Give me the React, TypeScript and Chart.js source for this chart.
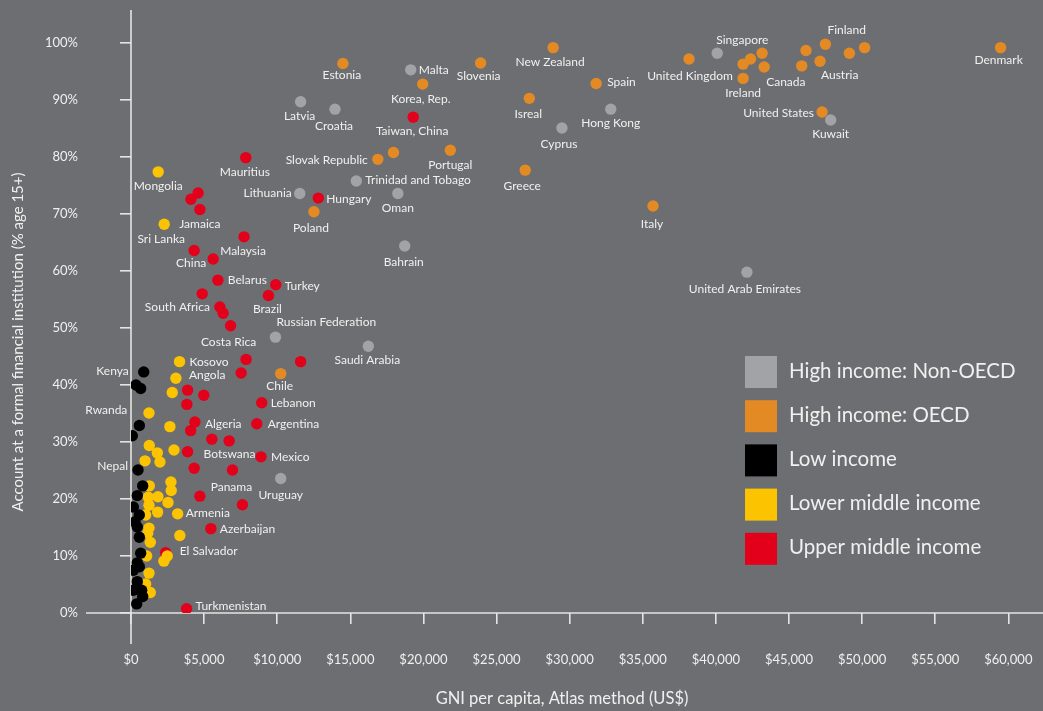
import React, { useEffect, useRef } from "react";
import { Chart, registerables } from "chart.js";

Chart.register(...registerables);

const FONT = "Lato, 'Open Sans', 'DejaVu Sans', sans-serif";
const BG = "#6d6e71";
const TXT = "#f0f0f0";
const AXIS = "#e4e4e4";

const seriesNames = [
  "High income: Non-OECD",
  "High income: OECD",
  "Low income",
  "Lower middle income",
  "Upper middle income",
];
const seriesColors = ["#a2a3a6", "#e38a25", "#000000", "#fcc400", "#e2001a"];

const xTicks = [0, 5000, 10000, 15000, 20000, 25000, 30000, 35000, 40000, 45000, 50000, 55000, 60000];
const yTicks = [0, 10, 20, 30, 40, 50, 60, 70, 80, 90, 100];
const xTitle = "GNI per capita, Atlas method (US$)";
const yTitle = "Account at a formal financial institution (% age 15+)";

// High income: Non-OECD
const hnoNames = ["Singapore", "Malta", "Latvia", "Croatia", "Hong Kong", "Cyprus", "Kuwait", "Trinidad and Tobago", "Lithuania", "Oman", "Bahrain", "United Arab Emirates", "Russian Federation", "Saudi Arabia", "Uruguay"];
const hnoGni = [40090, 19130, 11600, 13950, 32810, 29470, 47850, 15410, 11540, 18250, 18720, 42120, 9880, 16230, 10240];
const hnoAcct = [98.2, 95.3, 89.7, 88.4, 88.4, 85.1, 86.5, 75.8, 73.6, 73.6, 64.4, 59.8, 48.4, 46.8, 23.6];

// High income: OECD
const hoNames = ["Estonia", "Slovenia", "Korea, Rep.", "Slovak Republic", "", "Portugal", "Poland", "Greece", "Isreal", "New Zealand", "Spain", "Italy", "United Kingdom", "Chile", "", "", "", "Canada", "Ireland", "", "", "Finland", "Austria", "", "", "Denmark", "United States"];
const hoGni = [14490, 23910, 19950, 16880, 17950, 21840, 12510, 26960, 27240, 28870, 31810, 35700, 38160, 10240, 41860, 42370, 43160, 43300, 41860, 46160, 45870, 47490, 47120, 49130, 50170, 59470, 47260];
const hoAcct = [96.4, 96.5, 92.8, 79.6, 80.8, 81.2, 70.4, 77.7, 90.3, 99.2, 92.9, 71.4, 97.2, 42.0, 96.3, 97.2, 98.2, 95.8, 93.8, 98.7, 96.0, 99.8, 96.8, 98.2, 99.2, 99.2, 87.9];

// Low income
const liNames = ["Kenya", "", "", "Rwanda", "", "Nepal", "", "", "", "", "", "", "", "", "", "", "", "", "", "", "", ""];
const liGni = [870, 340, 660, 570, 90, 480, 800, 430, 160, 570, 270, 430, 570, 660, 430, 570, 160, 430, 160, 730, 800, 390];
const liAcct = [42.3, 40.0, 39.4, 32.9, 31.1, 25.1, 22.3, 20.6, 18.6, 17.2, 16.0, 15.1, 13.3, 10.5, 8.8, 8.1, 7.5, 5.5, 4.0, 4.0, 2.9, 1.6];

// Lower middle income
const lmNames = ["Mongolia", "Sri Lanka", "Kosovo", "Angola", "", "", "", "", "", "", "", "", "", "", "", "", "", "", "", "", "", "Armenia", "", "", "", "", "", "", "", "", "", ""];
const lmGni = [1860, 2270, 3320, 3070, 2820, 1230, 2660, 1250, 2940, 1800, 960, 1980, 1250, 2730, 2750, 1180, 1840, 2530, 1230, 1000, 1820, 3190, 1230, 1140, 3340, 1320, 1070, 2480, 2250, 1230, 1000, 1320];
const lmAcct = [77.4, 68.2, 44.1, 41.2, 38.7, 35.1, 32.7, 29.4, 28.6, 28.1, 26.7, 26.5, 22.3, 23.0, 21.5, 20.3, 20.4, 19.4, 18.9, 17.2, 17.7, 17.4, 14.9, 14.0, 13.6, 12.4, 10.0, 10.0, 9.1, 7.0, 5.1, 3.6];

// Upper middle income
const umNames = ["Mauritius", "", "", "Jamaica", "Hungary", "Malaysia", "China", "", "Belarus", "Turkey", "Brazil", "", "South Africa", "", "Costa Rica", "Taiwan, China", "", "", "", "Lebanon", "Argentina", "Mexico", "", "", "", "Algeria", "", "", "", "Botswana", "", "", "", "Panama", "Azerbaijan", "El Salvador", "Turkmenistan"];
const umGni = [7850, 4590, 4100, 4710, 12810, 7730, 4320, 5620, 5940, 9900, 9400, 4870, 6080, 6300, 6810, 19300, 7870, 11600, 7530, 8940, 8600, 8890, 3870, 4980, 3820, 4370, 4080, 5530, 6710, 3870, 4320, 6940, 4710, 7620, 5460, 2370, 3800];
const umAcct = [79.9, 73.7, 72.6, 70.8, 72.8, 66.0, 63.6, 62.1, 58.4, 57.6, 55.7, 56.0, 53.7, 52.6, 50.4, 87.0, 44.5, 44.1, 42.1, 36.9, 33.2, 27.4, 39.1, 38.2, 36.6, 33.5, 32.0, 30.5, 30.2, 28.3, 25.4, 25.1, 20.5, 19.0, 14.8, 10.6, 0.75];

// label placement (style only): [dx, dy, align]
const labelPlacement: Record<string, [number, number, CanvasTextAlign]> = {
  Singapore: [-1, -13, "left"],
  Malta: [8, 0, "left"],
  Latvia: [-1, 14, "center"],
  Croatia: [-1, 17, "center"],
  "Hong Kong": [0, 14, "center"],
  Cyprus: [-3, 16, "center"],
  Kuwait: [0, 14, "center"],
  "Trinidad and Tobago": [9, -1, "left"],
  Lithuania: [-8, 0, "right"],
  Oman: [0, 15, "center"],
  Bahrain: [-1, 16, "center"],
  "United Arab Emirates": [-2, 17, "center"],
  "Russian Federation": [1, -15, "left"],
  "Saudi Arabia": [-1, 14, "center"],
  Uruguay: [0, 17, "center"],
  Estonia: [-1, 12, "center"],
  Slovenia: [-2, 13, "center"],
  "Korea, Rep.": [-2, 15, "center"],
  "Slovak Republic": [-10, 1, "right"],
  Portugal: [0, 15, "center"],
  Poland: [-3, 16, "center"],
  Greece: [-3, 16, "center"],
  Isreal: [-1, 16, "center"],
  "New Zealand": [-3, 15, "center"],
  Spain: [11, -1, "left"],
  Italy: [-1, 18, "center"],
  "United Kingdom": [1, 17, "center"],
  Chile: [-1, 13, "center"],
  Ireland: [0, 15, "center"],
  Canada: [2, 15, "left"],
  Finland: [2, -14, "left"],
  Austria: [1, 14, "left"],
  "United States": [-8, 1, "right"],
  Denmark: [-2, 13, "center"],
  Mauritius: [-1, 15, "center"],
  Jamaica: [0, 15, "center"],
  Hungary: [8, 1, "left"],
  Malaysia: [-1, 14, "center"],
  China: [-3, 13, "center"],
  Belarus: [10, 0, "left"],
  Turkey: [9, 1, "left"],
  Brazil: [-1, 14, "center"],
  "South Africa": [-10, 0, "right"],
  "Costa Rica": [-2, 16, "center"],
  "Taiwan, China": [-1, 14, "center"],
  Lebanon: [9, 0, "left"],
  Argentina: [11, 0, "left"],
  Mexico: [10, 0, "left"],
  Algeria: [10, 2, "left"],
  Botswana: [16, 2, "left"],
  Panama: [-11, -18, "center"],
  Azerbaijan: [9, 0, "left"],
  "El Salvador": [14, -1, "left"],
  Turkmenistan: [9, -3, "left"],
  Mongolia: [0, 14, "center"],
  "Sri Lanka": [-3, 15, "center"],
  Kosovo: [10, 0, "left"],
  Angola: [13, -3, "left"],
  Armenia: [8, -1, "left"],
  Kenya: [-15, -1, "right"],
  Rwanda: [-12, -15, "right"],
  Nepal: [-10, -4, "right"],
};

const groups = [
  { gni: hnoGni, acct: hnoAcct, names: hnoNames },
  { gni: hoGni, acct: hoAcct, names: hoNames },
  { gni: liGni, acct: liAcct, names: liNames },
  { gni: lmGni, acct: lmAcct, names: lmNames },
  { gni: umGni, acct: umAcct, names: umNames },
];

const pointLabelsPlugin = {
  id: "pointLabels",
  afterDatasetsDraw(chart: any) {
    const ctx = chart.ctx;
    ctx.save();
    ctx.font = `12px ${FONT}`;
    ctx.fillStyle = TXT;
    ctx.textBaseline = "middle";
    chart.data.datasets.forEach((ds: any, i: number) => {
      const meta = chart.getDatasetMeta(i);
      const names = groups[i].names;
      meta.data.forEach((el: any, j: number) => {
        const name = names[j];
        if (!name) return;
        const p = labelPlacement[name] || [8, 0, "left"];
        ctx.textAlign = p[2];
        ctx.fillText(name, el.x + p[0], el.y + p[1]);
      });
    });
    ctx.restore();
  },
};

const decorPlugin = {
  id: "decor",
  beforeDatasetsDraw(chart: any) {
    const ctx = chart.ctx;
    const { left, top, bottom } = chart.chartArea;
    ctx.save();
    ctx.strokeStyle = AXIS;
    ctx.lineWidth = 1.6;
    ctx.beginPath();
    ctx.moveTo(86, bottom);
    ctx.lineTo(chart.width, bottom);
    ctx.moveTo(left, top);
    ctx.lineTo(left, bottom + 31);
    ctx.stroke();
    ctx.restore();
  },
  afterDraw(chart: any) {
    const ctx = chart.ctx;
    ctx.save();
    ctx.fillStyle = TXT;
    ctx.textBaseline = "middle";
    ctx.textAlign = "center";
    ctx.font = `16.5px ${FONT}`;
    ctx.fillText(xTitle, 562, 699);
    ctx.font = `15px ${FONT}`;
    ctx.save();
    ctx.translate(18, 342);
    ctx.rotate(-Math.PI / 2);
    ctx.fillText(yTitle, 0, 0);
    ctx.restore();
    // legend
    ctx.textAlign = "left";
    ctx.font = `20.5px ${FONT}`;
    chart.data.datasets.forEach((ds: any, i: number) => {
      const y = 356 + i * 44.2;
      ctx.fillStyle = ds.backgroundColor;
      ctx.fillRect(745, y, 32, 32);
      ctx.fillStyle = TXT;
      ctx.fillText(ds.label, 789, y + 15);
    });
    ctx.restore();
  },
};

export default function App() {
  const ref = useRef<HTMLCanvasElement | null>(null);
  useEffect(() => {
    if (!ref.current) return;
    const chart = new Chart(ref.current, {
      type: "scatter",
      data: {
        datasets: groups.map((g, i) => ({
          label: seriesNames[i],
          data: g.gni.map((x, j) => ({ x, y: g.acct[j] })),
          backgroundColor: seriesColors[i],
          borderColor: seriesColors[i],
          borderWidth: 0,
          pointRadius: 5.7,
          pointHoverRadius: 5.7,
        })),
      },
      options: {
        animation: false,
        responsive: true,
        maintainAspectRatio: false,
        layout: { padding: { top: 10, right: 4, left: 0, bottom: 0 } },
        plugins: { legend: { display: false }, tooltip: { enabled: false } },
        events: [],
        scales: {
          x: {
            type: "linear",
            min: 0,
            max: 61980,
            afterBuildTicks: (s: any) => {
              s.ticks = xTicks.map((v) => ({ value: v }));
            },
            afterFit: (s: any) => {
              s.height = 98;
              s.paddingLeft = 0;
              s.paddingRight = 0;
            },
            border: { display: false },
            grid: { drawOnChartArea: false, tickLength: 11, color: AXIS, lineWidth: 1.6 },
            ticks: {
              color: TXT,
              font: { family: FONT, size: 13 },
              padding: 28,
              maxRotation: 0,
              autoSkip: false,
              callback: (v: any) => "$" + Number(v).toLocaleString("en-US"),
            },
          },
          y: {
            type: "linear",
            min: 0,
            max: 105.8,
            afterBuildTicks: (s: any) => {
              s.ticks = yTicks.map((v) => ({ value: v }));
            },
            afterFit: (s: any) => {
              s.width = 131;
              s.paddingTop = 0;
              s.paddingBottom = 0;
            },
            border: { display: false },
            grid: { drawOnChartArea: false, tickLength: 11, color: AXIS, lineWidth: 1.6 },
            ticks: {
              color: TXT,
              font: { family: FONT, size: 13 },
              padding: 42,
              autoSkip: false,
              callback: (v: any) => v + "%",
            },
          },
        },
      },
      plugins: [decorPlugin, pointLabelsPlugin],
    } as any);
    return () => chart.destroy();
  }, []);
  return (
    <div style={{ position: "absolute", left: 0, top: 0, width: 1043, height: 711, background: BG }}>
      <canvas ref={ref} />
    </div>
  );
}
